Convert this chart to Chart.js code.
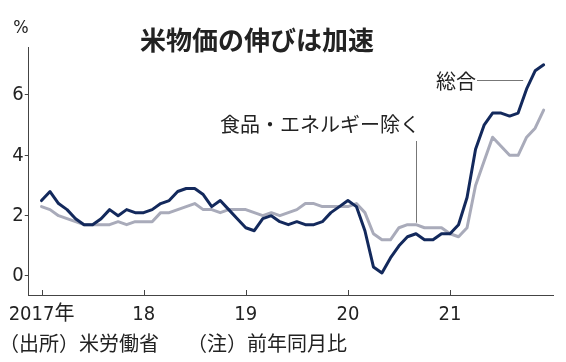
<!DOCTYPE html>
<html>
<head>
<meta charset="utf-8">
<script src="https://cdn.jsdelivr.net/npm/chart.js@4"></script>
<style>
  body { margin: 0; background: #fff; }
  canvas { display: block; }
</style>
</head>
<body>
<canvas id="cpiChart" width="566" height="362"></canvas>
<script>
// 2017年1月〜2021年12月, 前年同月比 (%)
const months = [];
for (let yr = 2017; yr <= 2021; yr++) {
  for (let m = 1; m <= 12; m++) months.push(yr + "-" + m);
}

const headline = [
  2.5, 2.8, 2.4, 2.2, 1.9, 1.7, 1.7, 1.9, 2.2, 2.0, 2.2, 2.1,
  2.1, 2.2, 2.4, 2.5, 2.8, 2.9, 2.9, 2.7, 2.3, 2.5, 2.2, 1.9,
  1.6, 1.5, 1.9, 2.0, 1.8, 1.7, 1.8, 1.7, 1.7, 1.8, 2.1, 2.3,
  2.5, 2.3, 1.5, 0.3, 0.1, 0.6, 1.0, 1.3, 1.4, 1.2, 1.2, 1.4,
  1.4, 1.7, 2.6, 4.2, 5.0, 5.4, 5.4, 5.3, 5.4, 6.2, 6.8, 7.0
];

const core = [
  2.3, 2.2, 2.0, 1.9, 1.8, 1.7, 1.7, 1.7, 1.7, 1.8, 1.7, 1.8,
  1.8, 1.8, 2.1, 2.1, 2.2, 2.3, 2.4, 2.2, 2.2, 2.1, 2.2, 2.2,
  2.2, 2.1, 2.0, 2.1, 2.0, 2.1, 2.2, 2.4, 2.4, 2.3, 2.3, 2.3,
  2.3, 2.4, 2.1, 1.4, 1.2, 1.2, 1.6, 1.7, 1.7, 1.6, 1.6, 1.6,
  1.4, 1.3, 1.6, 3.0, 3.8, 4.6, 4.3, 4.0, 4.0, 4.6, 4.9, 5.5
];

const xTickMonths = [0, 12, 24, 36, 48];
const xTickLabels = ["2017年", "18", "19", "20", "21"];
const yTicks = [0, 2, 4, 6];

const NAVY = "#13295c";
const GRAY = "#a9abba";
const AXIS = "#444";
const JP = '"Noto Sans CJK JP", sans-serif';
const NUM = '"Liberation Sans Narrow", "DejaVu Sans Condensed", "Noto Sans CJK JP", sans-serif';

const toPoints = arr => arr.map((v, i) => ({ x: i, y: v }));

const overlay = {
  id: "overlay",
  afterDraw(chart) {
    const { ctx, chartArea, scales: { x, y } } = chart;
    ctx.save();

    // inward ticks on the x axis
    ctx.strokeStyle = AXIS;
    ctx.lineWidth = 1;
    xTickMonths.forEach(m => {
      const px = Math.round(x.getPixelForValue(m)) + 0.5;
      ctx.beginPath();
      ctx.moveTo(px, chartArea.bottom);
      ctx.lineTo(px, chartArea.bottom - 5);
      ctx.stroke();
    });

    ctx.fillStyle = "#222";
    ctx.textBaseline = "middle";

    // title
    ctx.textAlign = "center";
    ctx.font = "bold 26px " + JP;
    ctx.fillText("米物価の伸びは加速", 257, 40);

    // unit
    ctx.font = "18px " + NUM;
    ctx.fillText("%", 21, 28);

    // series labels and leaders
    ctx.strokeStyle = "#777";
    ctx.font = "20px " + JP;
    ctx.fillText("総合", 456, 81);
    ctx.beginPath();
    ctx.moveTo(477, 80.5);
    ctx.lineTo(x.getPixelForValue(56.6), 80.5);
    ctx.stroke();

    ctx.fillText("食品・エネルギー除く", 320, 124);
    const lx = Math.round(x.getPixelForValue(44)) + 0.5;
    ctx.beginPath();
    ctx.moveTo(lx, 141);
    ctx.lineTo(lx, y.getPixelForValue(core[44]) - 2);
    ctx.stroke();

    // footer
    ctx.textAlign = "left";
    ctx.font = "20px " + JP;
    ctx.fillText("（出所）米労働省", -1, 343);
    ctx.fillText("（注）前年同月比", 187, 343);

    ctx.restore();
  }
};

new Chart(document.getElementById("cpiChart"), {
  type: "line",
  data: {
    datasets: [
      { label: "総合", data: toPoints(headline), borderColor: NAVY, borderWidth: 3 },
      { label: "食品・エネルギー除く", data: toPoints(core), borderColor: GRAY, borderWidth: 3 }
    ]
  },
  options: {
    responsive: false,
    animation: false,
    devicePixelRatio: 1,
    layout: { padding: { top: 47, right: 13, left: 0, bottom: 0 } },
    elements: {
      point: { radius: 0 },
      line: { tension: 0, borderJoinStyle: "round", borderCapStyle: "round" }
    },
    plugins: {
      legend: { display: false },
      tooltip: { enabled: false }
    },
    scales: {
      x: {
        type: "linear",
        min: -1.5,
        max: 60.1,
        afterBuildTicks: s => { s.ticks = xTickMonths.map(v => ({ value: v })); },
        afterFit: s => { s.height = 67; },
        grid: { display: false, drawTicks: false },
        border: { display: true, color: AXIS, width: 1 },
        ticks: {
          autoSkip: false,
          maxRotation: 0,
          padding: 8,
          color: "#222",
          font: { family: NUM, size: 20 },
          callback: v => xTickLabels[xTickMonths.indexOf(v)]
        }
      },
      y: {
        min: -0.63,
        max: 7.59,
        afterBuildTicks: s => { s.ticks = yTicks.map(v => ({ value: v })); },
        afterFit: s => { s.width = 26; },
        grid: { display: true, drawOnChartArea: false, drawTicks: true, tickLength: 4, color: AXIS },
        border: { display: true, color: AXIS, width: 1 },
        ticks: {
          padding: 1,
          color: "#222",
          font: { family: NUM, size: 20 }
        }
      }
    }
  },
  plugins: [overlay]
});
</script>
</body>
</html>
